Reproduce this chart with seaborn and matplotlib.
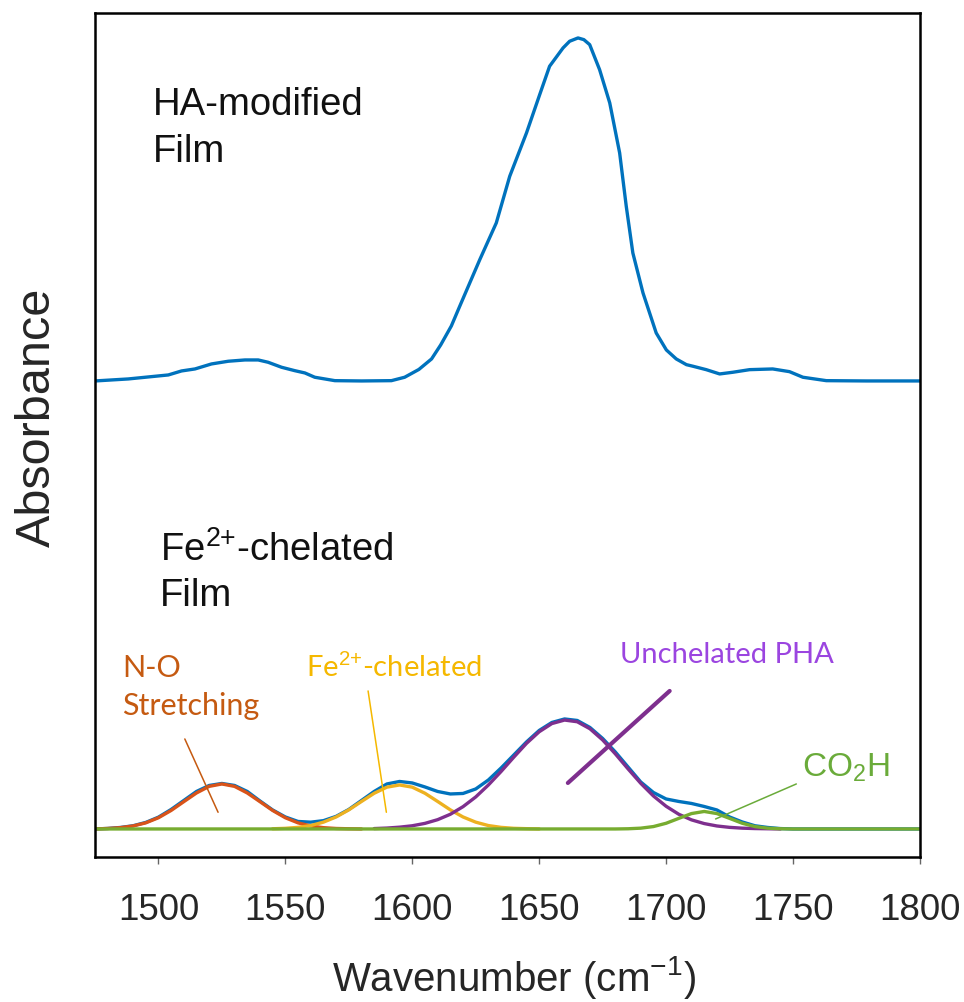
import numpy as np
import pandas as pd
import matplotlib
matplotlib.use("Agg")
import matplotlib.pyplot as plt
import seaborn as sns

# ---------------- data (absorbance, arbitrary units) ----------------
# HA-modified film spectrum
ha_wn = [1475.0, 1488.1, 1503.9, 1509.1, 1514.4, 1520.9, 1527.5, 1534.1, 1539.3,
         1543.2, 1548.5, 1553.7, 1557.7, 1561.6, 1569.5, 1580.0, 1591.8, 1597.0,
         1602.6, 1607.6, 1611.2, 1615.4, 1618.7, 1626.6, 1633.1, 1638.4, 1645.0,
         1650.2, 1654.1, 1659.4, 1662.0, 1665.3, 1667.6, 1669.9, 1673.8, 1677.8,
         1681.7, 1684.3, 1686.9, 1690.9, 1696.1, 1700.1, 1704.0, 1708.0, 1710.6,
         1713.2, 1715.8, 1721.1, 1726.3, 1732.9, 1742.0, 1748.6, 1753.9, 1763.1,
         1778.8, 1800.0]
ha_film = [0, 2, 6, 10, 12, 17, 19.7, 21, 21,
           18.7, 13.7, 10.3, 8, 3.7, 0.3, 0, 0.3, 3.7,
           11.5, 22, 36, 55, 74.7, 121.3, 158, 204.7, 248,
           286.3, 314.7, 333, 339.7, 343, 341.3, 336.3, 311.3, 278,
           228, 174.7, 128, 88, 48, 31, 22, 16.3, 14.7,
           13, 11.3, 7, 8.7, 11.3, 12, 9.3, 3.7, 0.3,
           0, 0]
ha_offset = 448

# Fe2+-chelated film, measured spectrum sampled every 5 cm-1
fe_wn = np.arange(1475, 1805, 5)
fe_film = [0, 0.5, 1.5, 3.2, 6.5, 11.8, 19.5, 28.5, 37.5, 43.5,
           45.5, 43.5, 37.5, 28.0, 19.0, 12.0, 7.5, 6.8, 8.3, 12.6,
           19.5, 28.5, 37.5, 45.0, 47.5, 46.0, 42.0, 37.5, 35.0, 35.5,
           40.0, 49.0, 61.0, 74.0, 87.0, 98.5, 106.5, 110.0, 108.5, 101.5,
           90.5, 77.0, 62.0, 47.0, 36.5, 30.0, 27.5, 25.5, 22.5, 19.0,
           12.0, 7.0, 3.2, 1.5, 0.4, 0,
           0, 0, 0, 0, 0, 0, 0, 0, 0, 0]

# fitted components of the Fe2+-chelated spectrum
no_wn = np.arange(1475, 1585, 5)
no_fit = [0, 0.5, 1.3, 3.0, 6.1, 11.2, 18.5, 27.3, 36.0, 42.6, 45.0,
          42.6, 36.0, 27.3, 18.5, 11.2, 6.1, 3.0, 1.3, 0.5, 0.2, 0]

chel_wn = np.arange(1545, 1655, 5)
chel_fit = [0.2, 0.65, 1.6, 3.4, 6.8, 12.0, 19.1, 27.5, 35.7, 41.8, 44.0,
            41.8, 35.7, 27.5, 19.1, 12.0, 6.8, 3.4, 1.6, 0.65, 0.3, 0]

pha_wn = np.arange(1585, 1750, 5)
pha_fit = [0.4, 0.9, 1.8, 3.2, 5.6, 9.3, 14.7, 22.3, 32.0, 44.0, 57.5,
           71.8, 85.6, 97.2, 105.4, 108.9, 107.2, 100.2, 89.0, 75.1, 60.1,
           45.7, 33.0, 22.7, 14.7, 9.1, 5.4, 3.0, 1.6, 0.8, 0.4, 0.2, 0]

co2h_wn = [1475, 1680, 1685, 1690, 1695, 1700, 1705, 1710, 1715,
           1720, 1725, 1730, 1735, 1740, 1745, 1750, 1800]
co2h_fit = [0, 0, 0.2, 0.8, 2.4, 5.7, 10.6, 15.4, 17.5,
            15.4, 10.6, 5.7, 2.4, 0.8, 0.2, 0, 0]

x_ticks = [1500, 1550, 1600, 1650, 1700, 1750, 1800]

# MATLAB-style line colours
C_BLUE = "#0072BD"
C_ORANGE = "#D95319"
C_YELLOW = "#EDB120"
C_PURPLE = "#7E2F8E"
C_GREEN = "#77AC30"

# ---------------- style ----------------
sns.set_theme(style="ticks")
plt.rcParams["font.family"] = ["Liberation Sans", "DejaVu Sans"]
plt.rcParams["mathtext.fontset"] = "custom"
plt.rcParams["mathtext.rm"] = "Liberation Sans"
plt.rcParams["mathtext.it"] = "Liberation Sans:italic"
plt.rcParams["mathtext.bf"] = "Liberation Sans:bold"
plt.rcParams["lines.solid_joinstyle"] = "round"
plt.rcParams["lines.solid_capstyle"] = "round"

fig = plt.figure(figsize=(9.64, 10.03), dpi=100)
ax = fig.add_axes([0.0985, 0.1446, 0.8558, 0.8415])

lw = 2.4
top_df = pd.DataFrame({"wn": ha_wn, "A": np.array(ha_film) + ha_offset})
sns.lineplot(data=top_df, x="wn", y="A", ax=ax, color=C_BLUE, lw=lw, estimator=None)

sns.lineplot(x=fe_wn, y=fe_film, ax=ax, color=C_BLUE, lw=lw, estimator=None)
sns.lineplot(x=no_wn, y=no_fit, ax=ax, color=C_ORANGE, lw=lw, estimator=None)
sns.lineplot(x=chel_wn, y=chel_fit, ax=ax, color=C_YELLOW, lw=lw, estimator=None)
sns.lineplot(x=pha_wn, y=pha_fit, ax=ax, color=C_PURPLE, lw=lw, estimator=None)
sns.lineplot(x=co2h_wn, y=co2h_fit, ax=ax, color=C_GREEN, lw=lw, estimator=None)

ax.set_xlim(1475, 1800)
ax.set_ylim(-28, 816)
ax.set_xticks(x_ticks)
ax.set_xticklabels([str(t) for t in x_ticks])
ax.set_yticks([])
ax.tick_params(axis="x", direction="out", length=5, width=1, color="#666666",
               labelsize=26.5, pad=20)
for s in ax.spines.values():
    s.set_visible(True)
    s.set_color("black")
    s.set_linewidth(1.8)

ax.set_xlabel("Wavenumber (cm$^{-1}$)", fontsize=29)
ax.xaxis.set_label_coords(0.508, -0.114)
ax.set_ylabel("Absorbance", fontsize=35)
ax.yaxis.set_label_coords(-0.043, 0.522)

# panel captions (anchored at the baseline of the last line)
ax.text(1497.8, 668, "HA-modified\nFilm", fontsize=27.5, va="baseline", ha="left",
        linespacing=1.4, color="#111111")
ax.text(1500.6, 224, "Fe$^{2{+}}$-chelated\nFilm", fontsize=27.5, va="baseline", ha="left",
        linespacing=1.33, color="#111111")

# component labels
lab_font = ["Lato", "DejaVu Sans"]
ax.text(1485.6, 115, "N-O\nStretching", fontsize=22, family=lab_font, color="#C55A11",
        va="baseline", ha="left", linespacing=1.45)
ax.text(1558.3, 153, "Fe$^{2{+}}$-chelated", fontsize=21, family=lab_font, color="#F5B800",
        va="baseline", ha="left")
ax.text(1681.7, 167, "Unchelated PHA", fontsize=21, family=lab_font, color="#9B45E0",
        va="baseline", ha="left")
ax.text(1753.7, 53, "CO$_2$H", fontsize=24, color="#6AAB3A", va="baseline", ha="left")

# leader lines
leaders = [
    ((1510.4, 90), (1523.5, 16.7), "#C55A11", 1.1),
    ((1582.6, 138), (1589.8, 16.7), "#F5B800", 1.1),
    ((1701.4, 138), (1661.3, 46), C_PURPLE, 3.0),
    ((1751.3, 45), (1719.5, 10), "#6AAB3A", 1.1),
]
for start, end, col, w in leaders:
    ax.annotate("", xy=end, xytext=start,
                arrowprops=dict(arrowstyle="-", color=col, lw=w, shrinkA=0, shrinkB=0))

fig.savefig("out.png", dpi=100)
